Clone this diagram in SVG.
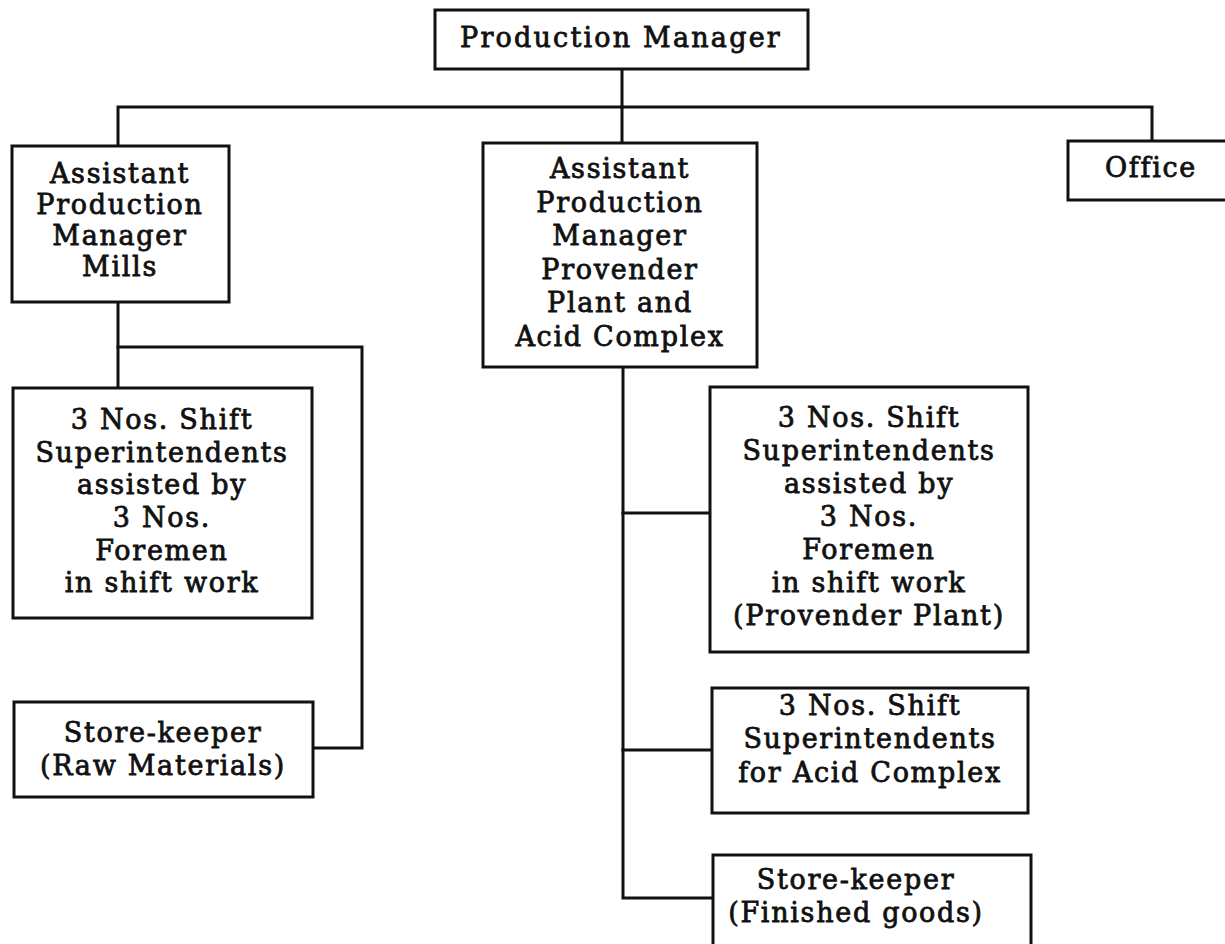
<svg xmlns="http://www.w3.org/2000/svg" width="1225" height="944" viewBox="0 0 1225 944">
  <style>
    .box { fill: #fff; stroke: #111; stroke-width: 3; }
    .link { fill: none; stroke: #111; stroke-width: 3; stroke-linecap: square; }
    text { font-family: "DejaVu Serif", "Liberation Serif", serif; font-size: 27px; fill: #111; stroke: #111; stroke-width: 0.8; text-anchor: middle; letter-spacing: 1.7px; }
    .wide { letter-spacing: 2.2px; }
  </style>
  <rect width="1225" height="944" fill="#fff"/>

  <!-- reporting lines -->
  <g id="connectors">
    <path class="link" d="M622 69 V107"/>
    <path class="link" d="M118 146 V107 H1152 V141"/>
    <path class="link" d="M622 107 V143"/>
    <path class="link" d="M118 302 V388"/>
    <path class="link" d="M118 347 H362 V748 H313"/>
    <path class="link" d="M623 367 V898 H713"/>
    <path class="link" d="M623 513 H710"/>
    <path class="link" d="M623 750 H712"/>
  </g>

  <g id="production-manager">
    <rect class="box" x="435" y="10" width="373" height="59"/>
    <text class="wide" x="621" y="47">Production Manager</text>
  </g>

  <g id="apm-mills">
    <rect class="box" x="12" y="146" width="217" height="156"/>
    <text x="120" y="183">Assistant</text>
    <text x="120" y="214">Production</text>
    <text x="120" y="245">Manager</text>
    <text x="120" y="276">Mills</text>
  </g>

  <g id="apm-provender">
    <rect class="box" x="483" y="143" width="274" height="224"/>
    <text x="620" y="178">Assistant</text>
    <text x="620" y="211.5">Production</text>
    <text x="620" y="245">Manager</text>
    <text x="620" y="278.5">Provender</text>
    <text x="620" y="312">Plant and</text>
    <text x="620" y="345.5">Acid Complex</text>
  </g>

  <g id="office">
    <rect class="box" x="1068" y="141" width="170" height="59"/>
    <text x="1151" y="177">Office</text>
  </g>

  <g id="mills-shift">
    <rect class="box" x="13" y="388" width="299" height="230"/>
    <text x="162" y="429">3 Nos. Shift</text>
    <text x="162" y="462">Superintendents</text>
    <text x="162" y="494">assisted by</text>
    <text x="162" y="527">3 Nos.</text>
    <text x="162" y="560">Foremen</text>
    <text x="162" y="592">in shift work</text>
  </g>

  <g id="store-raw">
    <rect class="box" x="14" y="702" width="299" height="95"/>
    <text x="163" y="742">Store-keeper</text>
    <text x="163" y="775">(Raw Materials)</text>
  </g>

  <g id="provender-shift">
    <rect class="box" x="710" y="387" width="318" height="265"/>
    <text x="869" y="427">3 Nos. Shift</text>
    <text x="869" y="460">Superintendents</text>
    <text x="869" y="493">assisted by</text>
    <text x="869" y="526">3 Nos.</text>
    <text x="869" y="559">Foremen</text>
    <text x="869" y="592">in shift work</text>
    <text x="869" y="625">(Provender Plant)</text>
  </g>

  <g id="acid-shift">
    <rect class="box" x="712" y="688" width="316" height="125"/>
    <text x="870" y="715">3 Nos. Shift</text>
    <text x="870" y="748">Superintendents</text>
    <text x="870" y="782">for Acid Complex</text>
  </g>

  <g id="store-finished">
    <rect class="box" x="713" y="855" width="318" height="100"/>
    <text x="856" y="889">Store-keeper</text>
    <text x="856" y="922">(Finished goods)</text>
  </g>
</svg>
